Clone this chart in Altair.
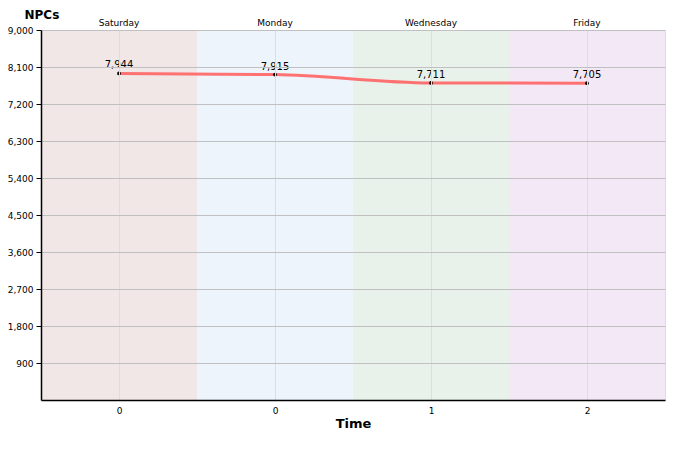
import json
import altair as alt
import pandas as pd

days = ["Saturday", "Monday", "Wednesday", "Friday"]
tick_labels = ["0", "0", "1", "2"]
values = [7944, 7915, 7711, 7705]
band_colors = ["#f2e7e7", "#edf4fb", "#e8f2ea", "#f2e8f6"]
y_ticks = [900, 1800, 2700, 3600, 4500, 5400, 6300, 7200, 8100, 9000]

df = pd.DataFrame({"idx": list(range(len(days))), "day": days, "value": values})

FONT = "DejaVu Sans"

x_scale = alt.Scale(domain=[-0.5, 3.5], nice=False, zero=False)
y_scale = alt.Scale(domain=[0, 9000], nice=False)

x_axis = alt.Axis(
    values=[0, 1, 2, 3],
    labelExpr=json.dumps(tick_labels) + "[datum.value]",
    ticks=False, grid=True, gridColor="#dddddd", gridWidth=1,
    domainColor="#000000", domainWidth=1.5,
    labelFont=FONT, labelFontSize=9, labelColor="#000", labelPadding=6,
    title="Time", titleFont=FONT, titleFontSize=13, titleFontWeight="bold",
    titleColor="#000", titlePadding=2, zindex=1,
)
y_axis = alt.Axis(
    values=y_ticks, labelExpr="format(datum.value, ',')", tickSize=5, tickColor="#000",
    grid=True, gridColor="#c0c0c0", gridWidth=1,
    domainColor="#000000", domainWidth=1.5,
    labelFont=FONT, labelFontSize=9, labelColor="#000", labelPadding=3,
    title="NPCs", titleFont=FONT, titleFontSize=12, titleFontWeight="bold",
    titleColor="#000", titleAngle=0, titleAlign="left", titleBaseline="alphabetic",
    titleX=-17, titleY=-12, zindex=1,
)

base = alt.Chart(df)

bands = base.transform_calculate(
    x0="datum.idx - 0.5", x1="datum.idx + 0.5", lo="0", hi="9000"
).mark_rect().encode(
    x=alt.X("x0:Q", scale=x_scale, axis=x_axis),
    x2="x1:Q",
    y=alt.Y("lo:Q", scale=y_scale, axis=y_axis),
    y2="hi:Q",
    color=alt.Color("day:N", scale=alt.Scale(domain=days, range=band_colors), legend=None),
)

line = base.mark_line(color="#ff6464", strokeWidth=3, opacity=0.9, interpolate="monotone").encode(
    x=alt.X("idx:Q", scale=x_scale, axis=x_axis),
    y=alt.Y("value:Q", scale=y_scale, axis=y_axis),
)

pts = base.mark_circle(color="#000", size=14, opacity=1).encode(
    x=alt.X("idx:Q", scale=x_scale, axis=x_axis),
    y=alt.Y("value:Q", scale=y_scale, axis=y_axis),
)

labels = base.mark_text(font=FONT, fontSize=10, color="#000", dy=-8).encode(
    x=alt.X("idx:Q", scale=x_scale, axis=x_axis),
    y=alt.Y("value:Q", scale=y_scale, axis=y_axis),
    text=alt.Text("value:Q", format=","),
)

day_labels = base.mark_text(font=FONT, fontSize=9, color="#000", baseline="alphabetic").encode(
    x=alt.X("idx:Q", scale=x_scale, axis=x_axis),
    y=alt.value(-4),
    text="day:N",
)

chart = alt.layer(bands, line, pts, labels, day_labels).properties(
    width=624, height=370,
    autosize=alt.AutoSizeParams(type="none"),
    padding={"left": 33, "top": 22, "right": 7, "bottom": 42},
).configure_view(stroke=None).configure(background="#ffffff")

chart.save("out.html", embed_options={"renderer": "svg", "actions": False})
